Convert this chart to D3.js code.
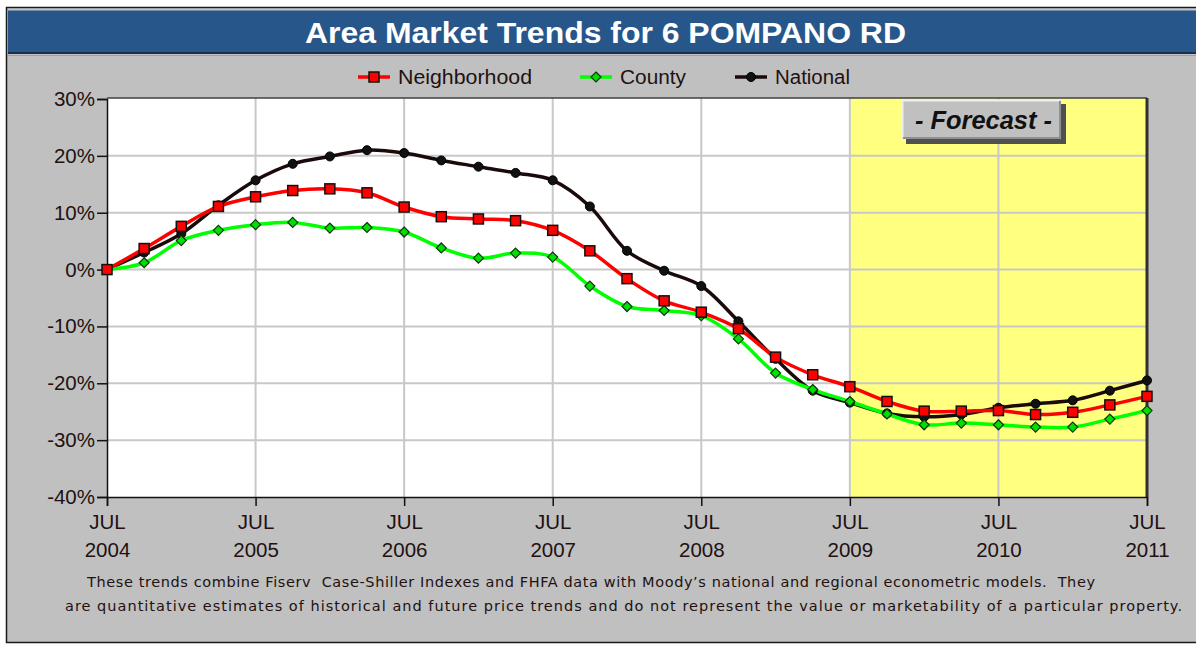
<!DOCTYPE html>
<html>
<head>
<meta charset="utf-8">
<script src="https://cdn.jsdelivr.net/npm/d3@7/dist/d3.min.js"></script>
<style>
  html, body { margin: 0; padding: 0; background: #ffffff; }
  svg { display: block; }
</style>
</head>
<body>
<div id="chart"></div>
<script>
// quarterly points, JUL 2004 .. JUL 2011 (29 quarters)
const yearLabels = ["2004", "2005", "2006", "2007", "2008", "2009", "2010", "2011"];
const yTicks = [30, 20, 10, 0, -10, -20, -30, -40];

const neighborhood = [0, 3.7, 7.6, 11.1, 12.8, 13.9, 14.2, 13.5, 11.0, 9.3, 8.9, 8.6, 6.9, 3.3, -1.6, -5.5, -7.5, -10.4, -15.4, -18.5, -20.6, -23.2, -24.9, -24.9, -24.8, -25.5, -25.1, -23.8, -22.3];
const county = [0, 1.2, 5.1, 6.9, 7.9, 8.3, 7.3, 7.4, 6.6, 3.8, 2.0, 2.9, 2.2, -2.9, -6.5, -7.2, -8.1, -12.2, -18.2, -21.1, -23.2, -25.4, -27.3, -27.0, -27.3, -27.7, -27.7, -26.3, -24.8];
const national = [0, 3.0, 6.3, 11.3, 15.7, 18.6, 19.9, 21.0, 20.5, 19.2, 18.1, 17.0, 15.7, 11.1, 3.3, -0.2, -2.9, -9.1, -15.7, -21.3, -23.4, -25.3, -25.9, -25.5, -24.3, -23.6, -23.0, -21.3, -19.5];

const forecastStart = 20; // JUL 2009 quarter index

const width = 1196, height = 646;
const plot = { left: 107, right: 1147, top: 98, bottom: 497 };
const font = "'Liberation Sans', Arial, sans-serif";
const textColor = "#221111";

const svg = d3.select("#chart").append("svg")
    .attr("width", width)
    .attr("height", height);

// outer frame + grey panel
svg.append("rect").attr("x", 6.5).attr("y", 7.5).attr("width", 1200).attr("height", 635)
    .attr("fill", "#c0c0c0").attr("stroke", "#1a1a1a").attr("stroke-width", 1.5);
svg.append("line").attr("x1", 8).attr("x2", 1196).attr("y1", 9.5).attr("y2", 9.5)
    .attr("stroke", "#b8c8d8").attr("stroke-width", 1.5);

// title bar
svg.append("rect").attr("x", 8).attr("y", 10.5).attr("width", 1190).attr("height", 42)
    .attr("fill", "#27568a");
svg.append("line").attr("x1", 8).attr("x2", 1196).attr("y1", 53).attr("y2", 53)
    .attr("stroke", "#16324f").attr("stroke-width", 2);
svg.append("line").attr("x1", 8).attr("x2", 1196).attr("y1", 55.5).attr("y2", 55.5)
    .attr("stroke", "#8ea4bc").attr("stroke-width", 1);
svg.append("text")
    .attr("x", 305).attr("y", 43)
    .attr("textLength", 601).attr("lengthAdjust", "spacingAndGlyphs")
    .attr("font-family", font).attr("font-weight", "bold").attr("font-size", "30px")
    .attr("fill", "#ffffff")
    .text("Area Market Trends for 6 POMPANO RD");

// scales
const x = d3.scaleLinear().domain([0, 28]).range([plot.left, plot.right]);
const y = d3.scaleLinear().domain([-40, 30]).range([plot.bottom, plot.top + 1]);

// plot background (white history, yellow forecast)
svg.append("rect")
    .attr("x", plot.left).attr("y", plot.top)
    .attr("width", x(forecastStart) - plot.left).attr("height", plot.bottom - plot.top)
    .attr("fill", "#ffffff");
svg.append("rect")
    .attr("x", x(forecastStart)).attr("y", plot.top)
    .attr("width", plot.right - x(forecastStart)).attr("height", plot.bottom - plot.top)
    .attr("fill", "#ffff80");

// grid
const yearIdx = yearLabels.map((d, i) => i * 4);
svg.append("g").selectAll("line").data(yTicks.slice(1, -1)).enter().append("line")
    .attr("x1", plot.left).attr("x2", plot.right)
    .attr("y1", d => y(d)).attr("y2", d => y(d))
    .attr("stroke", "#c8c8c8").attr("stroke-width", 2);
svg.append("g").selectAll("line").data(yearIdx.slice(1, -1)).enter().append("line")
    .attr("x1", d => x(d)).attr("x2", d => x(d))
    .attr("y1", plot.top).attr("y2", plot.bottom)
    .attr("stroke", "#c8c8c8").attr("stroke-width", 2);

// plot frame
svg.append("line").attr("x1", plot.left).attr("x2", plot.right).attr("y1", plot.top).attr("y2", plot.top)
    .attr("stroke", "#404040").attr("stroke-width", 1.5);
svg.append("line").attr("x1", plot.right).attr("x2", plot.right).attr("y1", plot.top).attr("y2", plot.bottom)
    .attr("stroke", "#303030").attr("stroke-width", 3);

// axes
const yAxis = d3.axisLeft(y).tickValues(yTicks).tickSize(10).tickPadding(2)
    .tickFormat(d => d + "%");
const gy = svg.append("g").attr("transform", `translate(${plot.left},0)`).call(yAxis);
gy.select(".domain").attr("stroke", "#111").attr("stroke-width", 1.5);
gy.selectAll(".tick line").attr("stroke", "#111").attr("stroke-width", 1.5);
gy.selectAll(".tick text").attr("font-family", font).attr("font-size", "20.5px")
    .attr("fill", textColor);

const xAxis = d3.axisBottom(x).tickValues(yearIdx).tickSize(9).tickFormat(() => "");
const gx = svg.append("g").attr("transform", `translate(0,${plot.bottom})`).call(xAxis);
gx.select(".domain").attr("stroke", "#111").attr("stroke-width", 1.5);
gx.selectAll(".tick line").attr("stroke", "#111").attr("stroke-width", 1.5);
gx.selectAll(".tick").each(function(d, i) {
    const t = d3.select(this);
    t.append("text").attr("y", 32).attr("text-anchor", "middle")
        .attr("font-family", font).attr("font-size", "20.5px").attr("fill", textColor)
        .text("JUL");
    t.append("text").attr("y", 60).attr("text-anchor", "middle")
        .attr("font-family", font).attr("font-size", "20.5px").attr("fill", textColor)
        .text(yearLabels[i]);
});

// forecast button
const fb = svg.append("g").attr("transform", "translate(902,100)");
fb.append("rect").attr("x", 4).attr("y", 4).attr("width", 160).attr("height", 40).attr("fill", "#505050");
fb.append("rect").attr("x", 0).attr("y", 0).attr("width", 159).attr("height", 39).attr("fill", "#c0c0c0");
fb.append("path").attr("d", "M0.5,38.5 L0.5,0.5 L158.5,0.5").attr("fill", "none")
    .attr("stroke", "#eeeeee").attr("stroke-width", 2);
fb.append("path").attr("d", "M1,38 L158,38 L158,1").attr("fill", "none")
    .attr("stroke", "#808080").attr("stroke-width", 1.5);
fb.append("text").attr("x", 13).attr("y", 29)
    .attr("textLength", 137).attr("lengthAdjust", "spacingAndGlyphs")
    .attr("font-family", font).attr("font-weight", "bold").attr("font-style", "italic")
    .attr("font-size", "25px").attr("fill", "#111")
    .text("- Forecast -");

// series
const series = [
    { name: "National", values: national, color: "#1a0a0a", marker: "circle", fill: "#111111" },
    { name: "County", values: county, color: "#00ff00", marker: "diamond", fill: "#00e000" },
    { name: "Neighborhood", values: neighborhood, color: "#ff0000", marker: "square", fill: "#ff0000" }
];

const line = d3.line()
    .x((d, i) => x(i))
    .y(d => y(d))
    .curve(d3.curveCatmullRom.alpha(0.5));

function drawMarker(g, type, fill) {
    if (type === "square") {
        g.append("rect").attr("x", -5).attr("y", -5).attr("width", 10).attr("height", 10)
            .attr("fill", fill).attr("stroke", "#111").attr("stroke-width", 1.5);
    } else if (type === "diamond") {
        g.append("path").attr("d", "M0,-5 L5,0 L0,5 L-5,0 Z")
            .attr("fill", fill).attr("stroke", "#113311").attr("stroke-width", 1.2);
    } else {
        g.append("circle").attr("r", 4.5).attr("fill", fill).attr("stroke", "#000").attr("stroke-width", 1);
    }
}

series.forEach(s => {
    svg.append("path").datum(s.values)
        .attr("d", line)
        .attr("fill", "none")
        .attr("stroke", s.color)
        .attr("stroke-width", 3.5)
        .attr("stroke-linejoin", "round");
});
series.forEach(s => {
    svg.append("g").selectAll("g").data(s.values).enter().append("g")
        .attr("transform", (d, i) => `translate(${x(i)},${y(d)})`)
        .each(function() { drawMarker(d3.select(this), s.marker, s.fill); });
});

// legend
const legendItems = [
    { name: "Neighborhood", color: "#ff0000", marker: "square", fill: "#ff0000", x: 358, len: 134 },
    { name: "County", color: "#00ff00", marker: "diamond", fill: "#00e000", x: 580, len: 66 },
    { name: "National", color: "#1a0a0a", marker: "circle", fill: "#111111", x: 735, len: 75 }
];
legendItems.forEach(l => {
    const g = svg.append("g").attr("transform", `translate(${l.x},77)`);
    g.append("line").attr("x1", 0).attr("x2", 32).attr("y1", 0).attr("y2", 0)
        .attr("stroke", l.color).attr("stroke-width", 3.5);
    const m = g.append("g").attr("transform", "translate(16,0)");
    drawMarker(m, l.marker, l.fill);
    g.append("text").attr("x", 40).attr("y", 7)
        .attr("textLength", l.len).attr("lengthAdjust", "spacingAndGlyphs")
        .attr("font-family", font).attr("font-size", "20px").attr("fill", textColor)
        .text(l.name);
});

// footnote
const noteLines = [
    { text: "These trends combine Fiserv  Case-Shiller Indexes and FHFA data with Moody\u2019s national and regional econometric models.  They", x: 87, y: 587, len: 1008 },
    { text: "are quantitative estimates of historical and future price trends and do not represent the value or marketability of a particular property.", x: 65, y: 611, len: 1117 }
];
svg.append("g").selectAll("text").data(noteLines).enter().append("text")
    .attr("x", d => d.x).attr("y", d => d.y)
    .attr("textLength", d => d.len).attr("lengthAdjust", "spacing")
    .attr("font-family", "'DejaVu Sans', Tahoma, sans-serif").attr("font-size", "14.5px")
    .attr("fill", textColor)
    .style("white-space", "pre")
    .text(d => d.text);
</script>
</body>
</html>
